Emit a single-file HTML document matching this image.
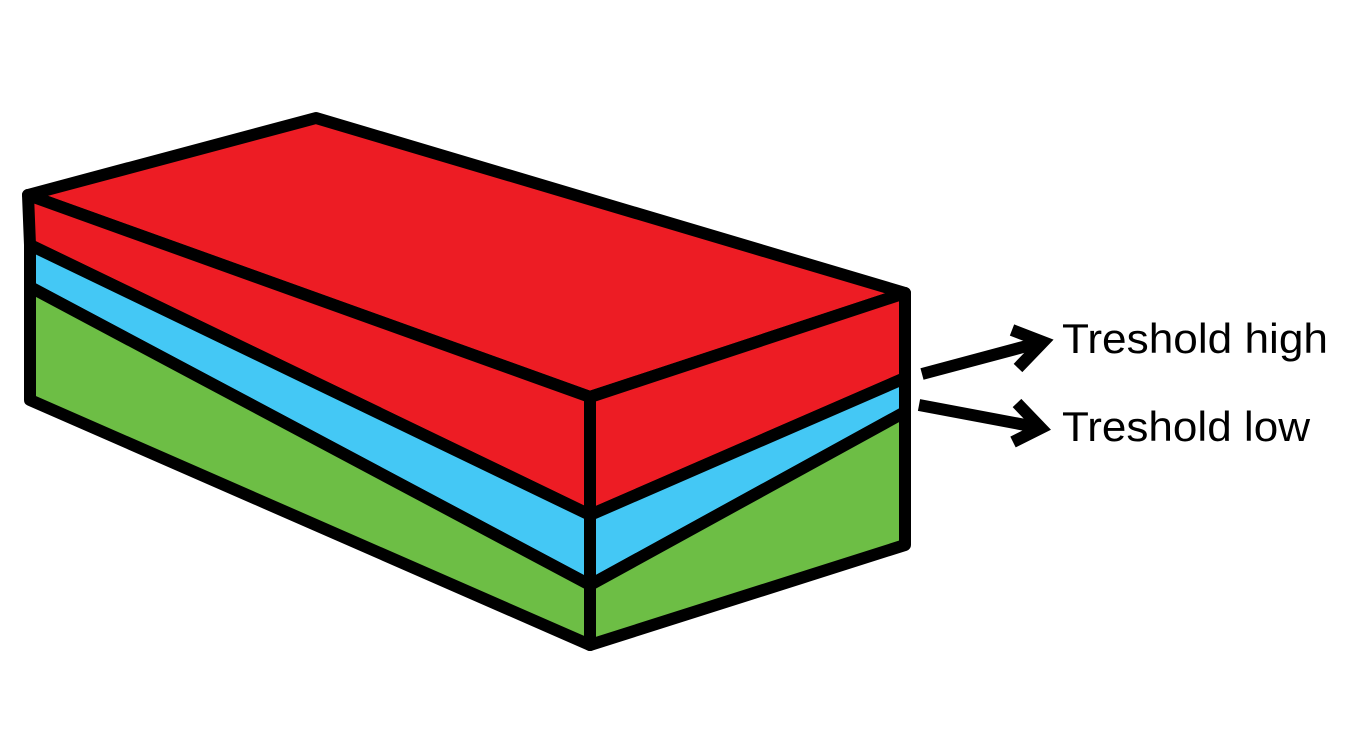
<!DOCTYPE html>
<html><head><meta charset="utf-8"><style>
html,body{margin:0;padding:0;background:#fff;width:1357px;height:736px;overflow:hidden}
svg{display:block}
</style></head><body>
<svg width="1357" height="736" viewBox="0 0 1357 736">
<g stroke="#000" stroke-width="12" stroke-linejoin="round" stroke-linecap="round">
  <polygon points="28,195 316,118 905,293 590,397" fill="#ED1C24"/>
  <polygon points="28,195 590,397 590,515 30,245" fill="#ED1C24"/>
  <polygon points="30,245 590,515 590,585 30,287" fill="#44C8F5"/>
  <polygon points="30,287 590,585 590,645 30,400" fill="#6DBE45"/>
  <polygon points="590,397 905,293 905,378 590,515" fill="#ED1C24"/>
  <polygon points="590,515 905,378 905,412 590,585" fill="#44C8F5"/>
  <polygon points="590,585 905,412 905,545 590,645" fill="#6DBE45"/>
</g>
<g stroke="#000" stroke-width="12" fill="none" stroke-linecap="butt" stroke-linejoin="miter">
  <line x1="922" y1="374" x2="1038" y2="343"/>
  <polyline points="1012,330 1043,342 1018,368"/>
  <line x1="919" y1="405" x2="1036" y2="427"/>
  <polyline points="1017,403 1041,428 1013,442"/>
</g>
<text x="1062" y="353" font-family="Liberation Sans, sans-serif" font-size="42" textLength="266" lengthAdjust="spacingAndGlyphs" fill="#000">Treshold high</text>
<text x="1062" y="441" font-family="Liberation Sans, sans-serif" font-size="42" textLength="248" lengthAdjust="spacingAndGlyphs" fill="#000">Treshold low</text>
</svg>
</body></html>
